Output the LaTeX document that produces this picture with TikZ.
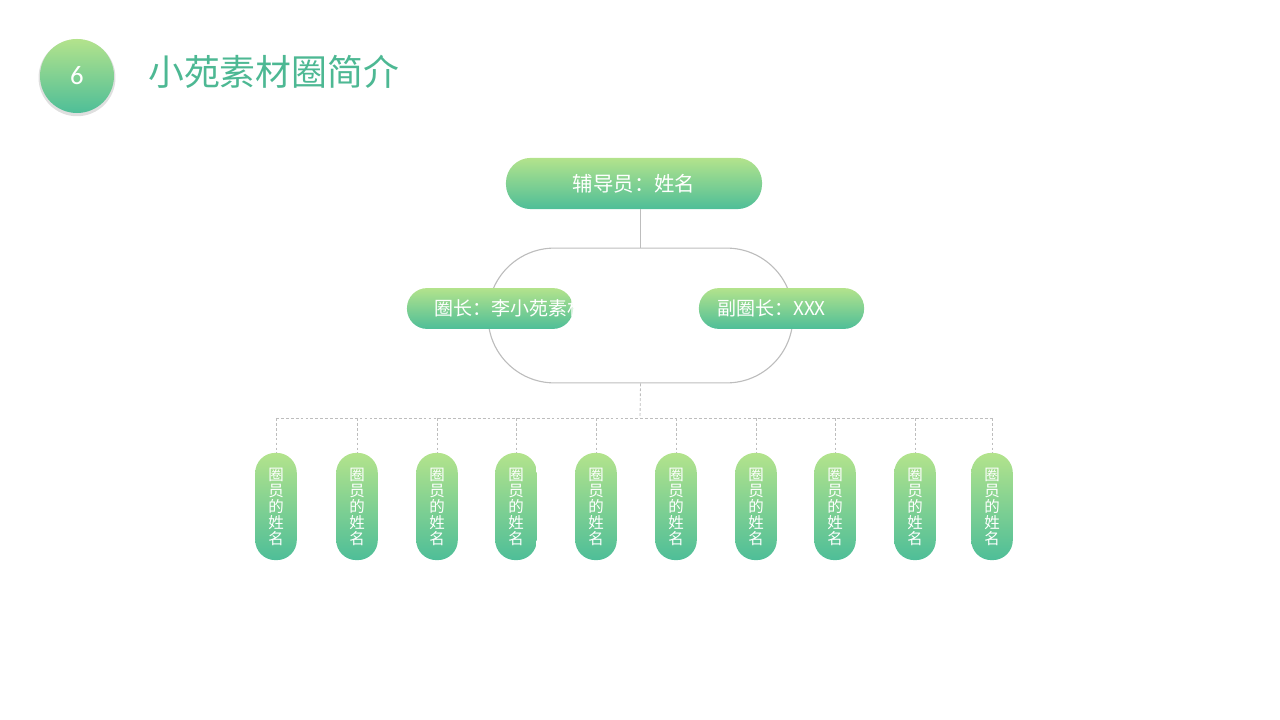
\documentclass[tikz,border=0pt]{standalone}
\usepackage{fontspec}
\setmainfont{Carlito}
\newfontfamily\cjk{Noto Sans CJK SC}
\usetikzlibrary{shadows}
\definecolor{leaf}{HTML}{B3E38C}
\definecolor{sea}{HTML}{4EBE98}
\definecolor{titlegreen}{HTML}{4DB893}
\definecolor{wire}{HTML}{BDBDBD}
\tikzset{
  pill/.style={rectangle, rounded corners=#1, top color=leaf, bottom color=sea,
    text=white, inner sep=0pt},
  member/.style={pill=0.5cm, minimum width=1.04cm, minimum height=2.68cm,
    align=center, font=\cjk\fontsize{11}{11.4}\selectfont},
  link/.style={draw=wire, line width=0.8pt},
  drop/.style={draw=wire, line width=0.6pt, dash pattern=on 2pt off 1.5pt}
}
\begin{document}
\begin{tikzpicture}[x=0.025cm, y=-0.025cm]
  \useasboundingbox (0,0) rectangle (1280,720);

  % Heading
  \node[circle, minimum size=1.85cm, top color=leaf, bottom color=sea,
    drop shadow={opacity=0.25, shadow xshift=0pt, shadow yshift=-1.2pt, shadow scale=1.04},
    text=white, font=\fontsize{19}{19}\selectfont] (num) at (77,76) {6};
  \node[anchor=west, text=titlegreen, font=\cjk\fontsize{25.5}{26}\selectfont,
    inner sep=0pt] (title) at (148,72) {小苑素材圈简介};

  % Counsellor and ring
  \node[pill=0.62cm, minimum width=6.4cm, minimum height=1.28cm,
    font=\cjk\fontsize{14.5}{15}\selectfont] (tutor) at (634,183.5) {辅导员：姓名};
  \node[draw=wire, line width=0.8pt, rectangle, rounded corners=1.66cm,
    minimum width=7.62cm, minimum height=3.37cm] (ring) at (640.5,315.5) {};
  \draw[link] (tutor.south-|ring.north) -- (ring.north);

  % Leaders
  \node[pill=0.5cm, minimum width=4.15cm, minimum height=1.02cm] (lead) at (490,308.5) {};
  \begin{scope}
    \clip[rounded corners=0.5cm] (lead.south west) rectangle (lead.north east);
    \node[anchor=west, text=white, inner sep=0pt,
      font=\cjk\fontsize{13.5}{14}\selectfont] (leadtext) at (434,308.5) {圈长：李小苑素材};
  \end{scope}
  \node[pill=0.5cm, minimum width=4.13cm, minimum height=1.02cm] (vice) at (781.5,308.5) {};
  \node[anchor=west, text=white, inner sep=0pt,
    font=\cjk\fontsize{13.5}{14}\selectfont] (vicetext) at (717,308.5) {副圈长：XXX};

  % Members
  \coordinate (bar) at (640,418);
  \foreach \x [count=\i] in {276,357,437,516,596,676,756,835,915,992}
    \node[member] (m\i) at (\x,506.5) {圈\\员\\的\\姓\\名};
  \draw[drop] (ring.south) -- (bar);
  \draw[drop] (bar-|m1.north) -- (bar-|m10.north);
  \foreach \i in {1,...,10}
    \draw[drop] (bar-|m\i.north) -- (m\i.north);
\end{tikzpicture}
\end{document}
